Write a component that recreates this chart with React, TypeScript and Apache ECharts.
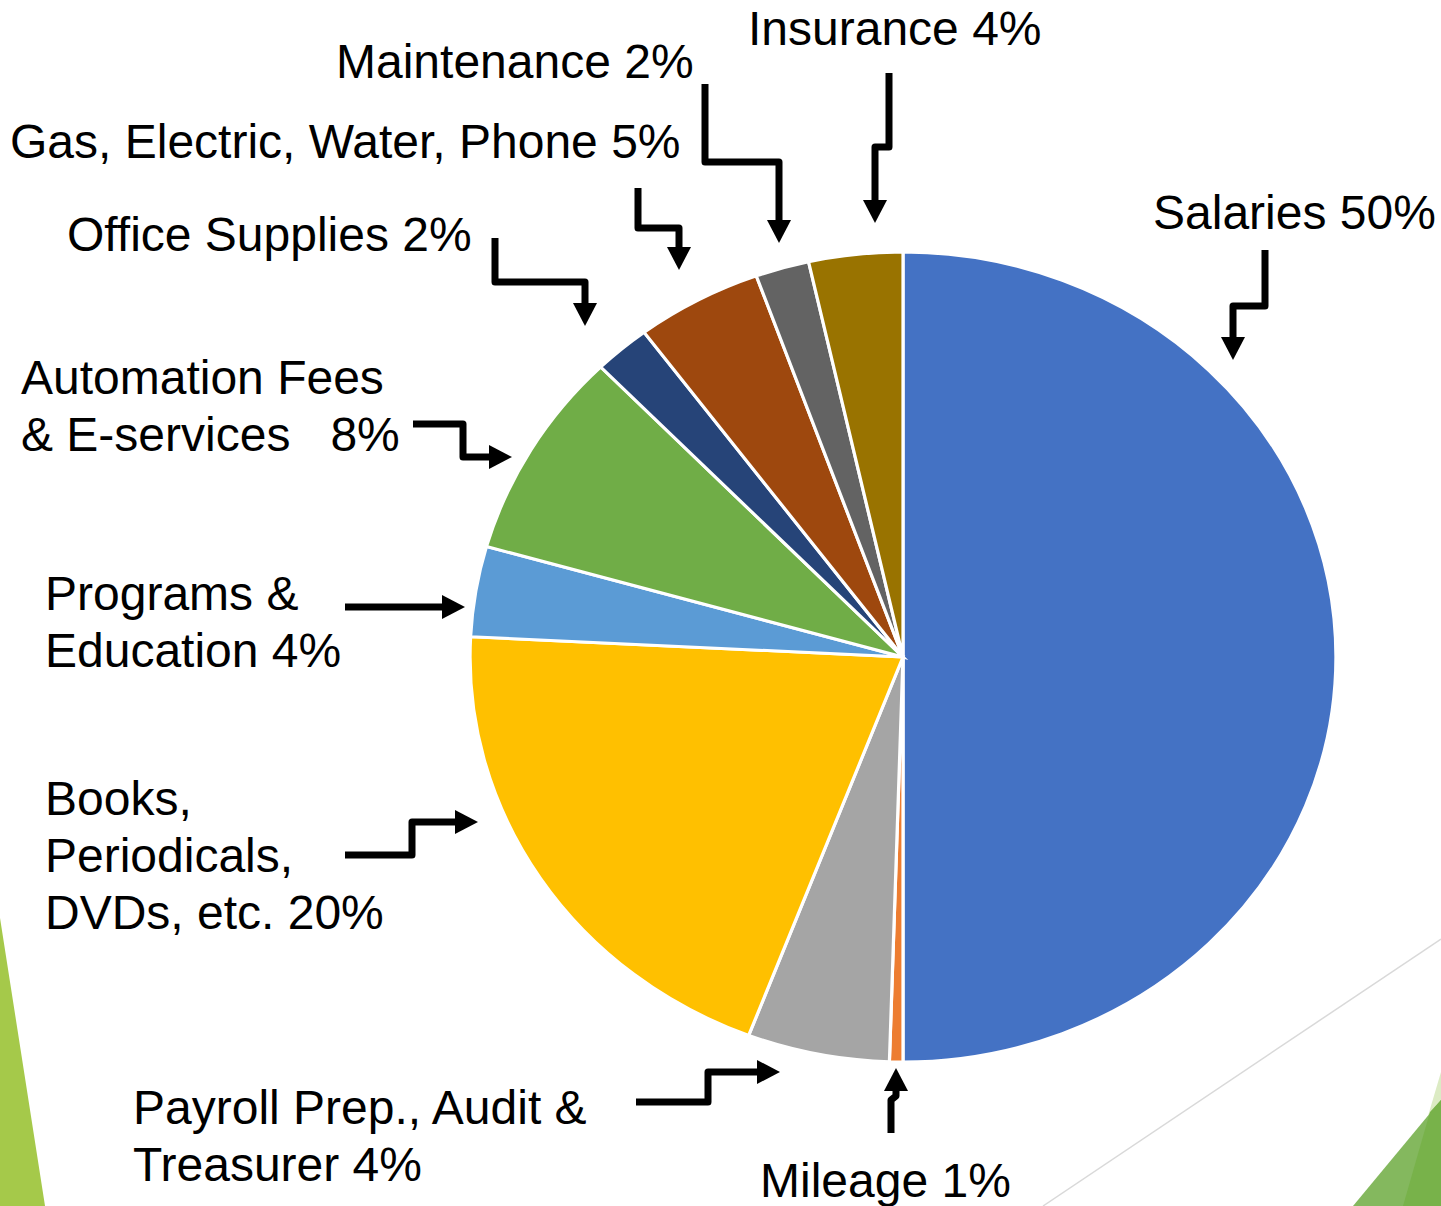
import React, { useEffect, useRef } from "react";
import * as echarts from "echarts";

// ---- Data (clockwise from 12 o'clock) ----
const categories = [
  "Salaries",
  "Mileage",
  "Payroll Prep., Audit & Treasurer",
  "Books, Periodicals, DVDs, etc.",
  "Programs & Education",
  "Automation Fees & E-services",
  "Office Supplies",
  "Gas, Electric, Water, Phone",
  "Maintenance",
  "Insurance",
];
// slice sizes as drawn (percent of the pie)
const shares = [50, 0.5, 5.3, 20, 3.6, 8.3, 2.1, 4.7, 2.0, 3.5];
// percentages as printed in the labels
const labelPercents = ["50%", "1%", "4%", "20%", "4%", "8%", "2%", "5%", "2%", "4%"];
const labelTexts = [
  "Salaries " + labelPercents[0],
  "Mileage " + labelPercents[1],
  "Payroll Prep., Audit &\nTreasurer " + labelPercents[2],
  "Books,\nPeriodicals,\nDVDs, etc. " + labelPercents[3],
  "Programs &\nEducation " + labelPercents[4],
  "Automation Fees\n& E-services\u00A0\u00A0 " + labelPercents[5],
  "Office Supplies " + labelPercents[6],
  "Gas, Electric, Water, Phone " + labelPercents[7],
  "Maintenance " + labelPercents[8],
  "Insurance " + labelPercents[9],
];
const colors = [
  "#4472C4",
  "#ED7D31",
  "#A5A5A5",
  "#FFC000",
  "#5B9BD5",
  "#70AD47",
  "#264478",
  "#9E480E",
  "#636363",
  "#997300",
];

// ---- Layout (not data) ----
const CX = 903;
const CY = 657;
const RX = 433;
const RY = 405;
const FONT_SIZE = 48;
const LINE_H = 57;
// [left x, centre y of first line]
const labelPos: [number, number][] = [
  [1153, 212],
  [760, 1180],
  [133, 1107],
  [45, 798],
  [45, 593],
  [21, 377],
  [67, 234],
  [10, 141],
  [336, 61],
  [748, 28],
];
// annotation arrows, last point is the tip
const arrowPaths: [number, number][][] = [
  [[1265, 250], [1265, 306], [1233, 306], [1233, 360]],
  [[891, 1133], [891, 1100], [896, 1096], [896, 1068]],
  [[636, 1102], [708, 1102], [708, 1072], [780, 1072]],
  [[345, 855], [412, 855], [412, 822], [478, 822]],
  [[345, 607], [465, 607]],
  [[413, 424], [463, 424], [463, 457], [512, 457]],
  [[495, 238], [495, 282], [585, 282], [585, 326]],
  [[638, 188], [638, 228], [679, 228], [679, 270]],
  [[705, 84], [705, 162], [779, 162], [779, 243]],
  [[889, 73], [889, 147], [875, 147], [875, 223]],
];

function buildArrow(pts: [number, number][]) {
  const HEAD_L = 23;
  const HEAD_W = 12;
  const n = pts.length;
  const tip = pts[n - 1];
  const prev = pts[n - 2];
  const dx = tip[0] - prev[0];
  const dy = tip[1] - prev[1];
  const len = Math.hypot(dx, dy);
  const ux = dx / len;
  const uy = dy / len;
  const bx = tip[0] - ux * HEAD_L;
  const by = tip[1] - uy * HEAD_L;
  const px = -uy;
  const py = ux;
  const linePts = pts.slice(0, n - 1).concat([[bx + ux * 2, by + uy * 2]]);
  return [
    {
      type: "polyline",
      shape: { points: linePts },
      style: { stroke: "#000", lineWidth: 7, fill: null, lineJoin: "round" },
      z: 10,
    },
    {
      type: "polygon",
      shape: {
        points: [
          [tip[0], tip[1]],
          [bx + px * HEAD_W, by + py * HEAD_W],
          [bx - px * HEAD_W, by - py * HEAD_W],
        ],
      },
      style: { fill: "#000" },
      z: 10,
    },
  ];
}

export default function App() {
  const ref = useRef<HTMLDivElement>(null);

  useEffect(() => {
    document.body.style.margin = "0";
    if (!ref.current) return;
    const chart = echarts.init(ref.current, null, { renderer: "svg" });
    const total = shares.reduce((a, b) => a + b, 0);

    const graphics: any[] = [];
    // background decorations
    graphics.push({
      type: "polygon",
      shape: { points: [[0, 918], [45, 1206], [0, 1206]] },
      style: { fill: "#A5C94A" },
      z: 0,
    });
    graphics.push({
      type: "line",
      shape: { x1: 1043, y1: 1206, x2: 1441, y2: 939 },
      style: { stroke: "#D9D9D9", lineWidth: 1.5 },
      z: 0,
    });
    graphics.push({
      type: "polygon",
      shape: { points: [[1428, 1116], [1441, 1072], [1441, 1102]] },
      style: { fill: "#DCEBC4" },
      z: 0,
    });
    graphics.push({
      type: "polygon",
      shape: { points: [[1353, 1206], [1441, 1100], [1441, 1206]] },
      style: { fill: "#84B85E" },
      z: 0,
    });
    graphics.push({
      type: "polygon",
      shape: { points: [[1403, 1206], [1430, 1112], [1441, 1100], [1441, 1206]] },
      style: { fill: "#78B24A" },
      z: 0,
    });

    labelTexts.forEach((t, i) => {
      graphics.push({
        type: "text",
        x: labelPos[i][0],
        y: labelPos[i][1] - LINE_H / 2,
        style: {
          text: t,
          fill: "#000",
          font: `${FONT_SIZE}px "Liberation Sans", Arial, sans-serif`,
          fontSize: FONT_SIZE,
          fontFamily: '"Liberation Sans", Arial, sans-serif',
          lineHeight: LINE_H,
          verticalAlign: "top",
          align: "left",
        },
        z: 10,
      });
    });
    arrowPaths.forEach((p) => graphics.push(...buildArrow(p)));

    chart.setOption({
      animation: false,
      backgroundColor: "#ffffff",
      graphic: { elements: graphics },
      series: [
        {
          type: "custom",
          coordinateSystem: "none",
          data: shares.map((v, i) => ({ value: [v], name: categories[i] })),
          renderItem: (params: any, api: any) => {
            const idx = params.dataIndex;
            let before = 0;
            for (let j = 0; j < idx; j++) before += shares[j];
            const a0 = -Math.PI / 2 + (before / total) * Math.PI * 2;
            const a1 = a0 + (api.value(0) / total) * Math.PI * 2;
            return {
              type: "sector",
              x: CX,
              y: CY,
              scaleX: RX / RY,
              scaleY: 1,
              shape: { cx: 0, cy: 0, r: RY, r0: 0, startAngle: a0, endAngle: a1, clockwise: true },
              style: { fill: colors[idx], stroke: "#ffffff", lineWidth: 3 },
            };
          },
        },
      ],
    });
    return () => chart.dispose();
  }, []);

  return <div ref={ref} style={{ width: 1441, height: 1206 }} />;
}
